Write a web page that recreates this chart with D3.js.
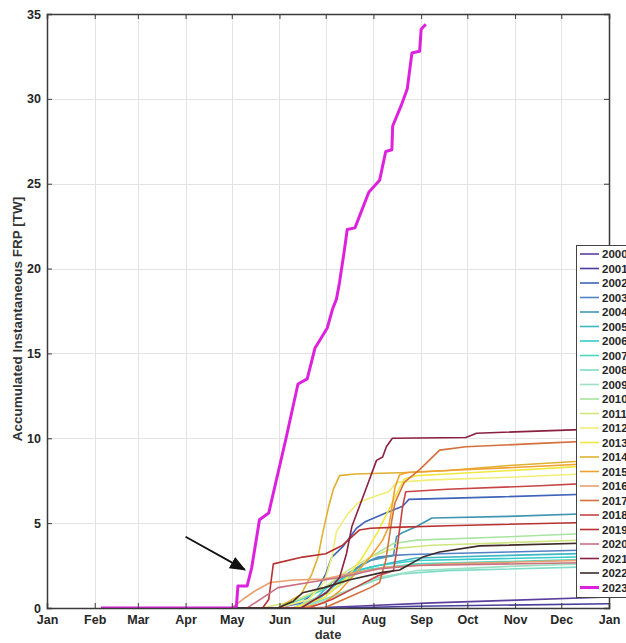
<!DOCTYPE html>
<html>
<head>
<meta charset="utf-8">
<script src="https://cdn.jsdelivr.net/npm/d3@7/dist/d3.min.js"></script>
<style>
  html, body { margin: 0; padding: 0; background: #fff; }
  svg { display: block; }
</style>
</head>
<body>
<svg id="chart" width="626" height="643"></svg>
<script>
// ---------- DATA (day of year, accumulated FRP in TW) ----------
const years = ["2000","2001","2002","2003","2004","2005","2006","2007","2008","2009","2010","2011",
               "2012","2013","2014","2015","2016","2017","2018","2019","2020","2021","2022","2023"];

const s2000 = [[55,0],[170,0],[200,0.1],[250,0.3],[300,0.45],[365,0.65]];
const s2001 = [[55,0],[190,0],[240,0.1],[365,0.25]];
const s2002 = [[55,0],[150,0],[165,0.3],[175,1.0],[181,2.0],[185,3.0],[192,3.6],[201,4.7],[207,5.1],[220,5.6],[231,6.0],[235,6.4],[294,6.55],[365,6.75]];
const s2003 = [[55,0],[160,0],[175,0.5],[185,1.2],[195,2.0],[205,2.6],[215,3.0],[225,3.1],[236,3.15],[300,3.3],[365,3.45]];
const s2004 = [[55,0],[160,0],[180,0.8],[195,2.0],[210,2.8],[225,3.1],[227,4.2],[230,4.4],[240,4.8],[250,5.3],[300,5.4],[365,5.6]];
const s2005 = [[55,0],[165,0],[175,0.6],[185,1.5],[195,2.0],[210,2.4],[225,2.7],[240,2.95],[300,3.1],[365,3.25]];
const s2006 = [[55,0],[170,0],[180,0.8],[190,1.6],[200,2.2],[215,2.5],[240,2.8],[365,3.05]];
const s2007 = [[55,0],[150,0],[165,0.5],[180,1.1],[195,1.8],[210,2.3],[240,2.6],[365,2.9]];
const s2008 = [[55,0],[160,0],[180,0.5],[200,1.2],[215,1.7],[230,2.0],[260,2.2],[365,2.45]];
const s2009 = [[55,0],[165,0],[185,0.6],[200,1.2],[215,1.8],[240,2.2],[300,2.45],[365,2.65]];
const s2010 = [[55,0],[160,0],[185,1.0],[200,2.0],[210,3.0],[225,3.8],[240,4.0],[300,4.2],[365,4.45]];
const s2011 = [[55,0],[140,0],[160,0.4],[180,1.2],[195,2.2],[210,3.0],[225,3.5],[250,3.7],[365,4.05]];
const s2012 = [[55,0],[150,0],[170,0.5],[180,1.5],[185,3.0],[188,4.5],[195,5.5],[202,6.2],[212,6.55],[222,6.85],[227,7.4],[250,7.55],[300,7.7],[365,7.97]];
const s2013 = [[55,0],[160,0],[180,0.6],[195,1.8],[205,3.0],[215,4.5],[222,5.8],[228,6.9],[232,7.6],[240,7.8],[260,7.9],[320,8.2],[365,8.45]];
const s2014 = [[55,0],[150,0],[165,0.8],[172,2.0],[176,3.0],[179,4.4],[183,6.0],[186,7.0],[190,7.8],[200,7.9],[240,8.0],[260,8.1],[300,8.4],[365,8.75]];
const s2015 = [[55,0],[165,0],[180,0.3],[190,1.0],[200,2.0],[210,3.0],[218,4.0],[222,4.8],[226,7.1],[229,7.85],[235,8.0],[260,8.1],[320,8.35],[365,8.56]];
const s2016 = [[55,0],[120,0],[127,0.5],[135,1.0],[145,1.5],[160,1.65],[180,1.7],[195,2.0],[220,2.4],[260,2.6],[365,2.85]];
const s2017 = [[55,0],[180,0],[190,0.4],[200,0.8],[210,1.2],[216,1.5],[220,2.8],[224,5.2],[226,6.2],[232,7.4],[242,8.15],[255,9.3],[272,9.5],[320,9.7],[365,9.88]];
const s2018 = [[55,0],[170,0],[185,0.5],[200,1.2],[215,1.9],[225,2.2],[227.5,3.6],[231,6.0],[233,6.85],[260,7.0],[320,7.2],[365,7.4]];
const s2019 = [[55,0],[140,0],[144,0.5],[147,2.6],[166,3.0],[181,3.2],[192,3.7],[203,4.6],[210,4.7],[225,4.75],[260,4.85],[365,5.07]];
const s2020 = [[55,0],[130,0],[140,0.6],[150,1.2],[170,1.5],[190,1.8],[215,2.3],[240,2.5],[365,2.7]];
const s2021 = [[55,0],[165,0],[172,0.4],[181.5,0.9],[190,1.8],[194.5,3.2],[198,4.8],[207.5,7.1],[214,8.7],[218,8.9],[220.4,9.5],[224.3,10.0],[272,10.05],[279,10.3],[365,10.57]];
const s2022 = [[55,0],[150,0],[160,0.4],[166,0.9],[180,1.2],[196,1.65],[218,2.1],[229,2.24],[244,3.0],[255,3.3],[281,3.66],[365,3.86]];
const s2023 = [[35,0],[121,0],[123,0.1],[124,1.3],[130,1.3],[133,2.4],[138,5.2],[144,5.6],[155,9.9],[163,13.2],[169,13.5],[174,15.3],[182,16.5],
               [185.4,17.6],[188,18.2],[190,19.2],[193,21.0],[195,22.3],[200,22.4],[209,24.5],[216,25.2],[220,26.9],[224,27.0],[224.5,28.4],
               [230,29.6],[234,30.6],[237,32.7],[242,32.8],[243,34.1],[246,34.4]];

const seriesValues = [s2000,s2001,s2002,s2003,s2004,s2005,s2006,s2007,s2008,s2009,s2010,s2011,
                      s2012,s2013,s2014,s2015,s2016,s2017,s2018,s2019,s2020,s2021,s2022,s2023];

const colors = ["#5c3f9e","#4a3f9c","#3f63b8","#5282c6","#3f96b0","#3fb8c4","#35cccc","#4fd6bc","#7fdcc8","#9ee0c4",
                "#a8e4a0","#cfe67e","#f0ee78","#f0e840","#e0b030","#f0a030","#e8a070","#d4703c","#c84444","#b83030",
                "#c87080","#8a2040","#3e2a28","#dd22dd"];

const yTicks = [0,5,10,15,20,25,30,35];
const monthLabels = ["Jan","Feb","Mar","Apr","May","Jun","Jul","Aug","Sep","Oct","Nov","Dec","Jan"];
const arrowPts = [[90,4.2],[128.4,2.26]]; // annotation arrow: tail -> head (day, TW)

// ---------- LAYOUT ----------
const svg = d3.select("#chart");
const L = 47, R = 609, T = 14, B = 608;
const t0 = Date.UTC(2001,0,1);
const toDate = d => new Date(t0 + d*864e5);

const x = d3.scaleUtc().domain([toDate(0), toDate(365)]).range([L, R]);
const y = d3.scaleLinear().domain([0,35]).range([B, T]);
const monthTicks = d3.utcMonth.range(toDate(0), toDate(366));

const font = "'Liberation Sans', Arial, Helvetica, sans-serif";

// grid
const grid = svg.append("g").attr("stroke","#e3e3e3").attr("stroke-width",1);
grid.selectAll("line.gx").data(monthTicks).join("line")
  .attr("x1", d=>Math.round(x(d))+0.5).attr("x2", d=>Math.round(x(d))+0.5)
  .attr("y1", T).attr("y2", B);
grid.selectAll("line.gy").data(yTicks).join("line")
  .attr("y1", d=>Math.round(y(d))+0.5).attr("y2", d=>Math.round(y(d))+0.5)
  .attr("x1", L).attr("x2", R);

// lines
const clip = svg.append("clipPath").attr("id","clip").append("rect")
  .attr("x",L).attr("y",T-6).attr("width",R-L).attr("height",B-T+6);
const line = d3.line().x(d=>x(toDate(d[0]))).y(d=>y(d[1]));
const lg = svg.append("g").attr("clip-path","url(#clip)");
seriesValues.forEach((s,i)=>{
  lg.append("path").attr("d", line(s)).attr("fill","none")
    .attr("stroke", colors[i]).attr("stroke-width", i===23 ? 3 : 1.6)
    .attr("stroke-linejoin","round");
});

// axes (MATLAB style box)
const axisColor = "#3a3a3a";
const xAxisB = d3.axisBottom(x).tickValues(monthTicks).tickSize(-5).tickFormat((d,i)=>monthLabels[i]).tickPadding(7);
const xAxisT = d3.axisTop(x).tickValues(monthTicks).tickSize(-5).tickFormat("");
const yAxisL = d3.axisLeft(y).tickValues(yTicks).tickSize(-5).tickPadding(6);
const yAxisR = d3.axisRight(y).tickValues(yTicks).tickSize(-5).tickFormat("");

function style(g){
  g.selectAll("path.domain").attr("stroke", axisColor).attr("stroke-width",1.5);
  g.selectAll(".tick line").attr("stroke", axisColor).attr("stroke-width",1);
  g.selectAll("text").attr("fill","#262626").attr("font-family",font).attr("font-size","12.5px").attr("font-weight","bold");
}
svg.append("g").attr("transform",`translate(0,${B})`).call(xAxisB).call(style);
svg.append("g").attr("transform",`translate(0,${T})`).call(xAxisT).call(style);
svg.append("g").attr("transform",`translate(${L},0)`).call(yAxisL).call(style);
svg.append("g").attr("transform",`translate(${R},0)`).call(yAxisR).call(style);

// axis labels
svg.append("text").attr("x", (L+R)/2 - 0).attr("y", 639).attr("text-anchor","middle")
  .attr("font-family",font).attr("font-size","13px").attr("font-weight","bold").attr("fill","#333").text("date");
svg.append("text").attr("transform",`translate(22,${319}) rotate(-90)`).attr("text-anchor","middle")
  .attr("font-family",font).attr("font-size","13.5px").attr("font-weight","bold").attr("fill","#333")
  .text("Accumulated Instantaneous FRP [TW]");

// arrow annotation
const defs = svg.append("defs");
defs.append("marker").attr("id","ah").attr("viewBox","0 0 10 10").attr("refX",9).attr("refY",5)
  .attr("markerWidth",9).attr("markerHeight",9).attr("orient","auto-start-reverse")
  .append("path").attr("d","M0,1 L10,5 L0,9 Z").attr("fill","#111");
svg.append("line")
  .attr("x1", x(toDate(arrowPts[0][0]))).attr("y1", y(arrowPts[0][1]))
  .attr("x2", x(toDate(arrowPts[1][0]))).attr("y2", y(arrowPts[1][1]))
  .attr("stroke","#111").attr("stroke-width",1.8).attr("marker-end","url(#ah)");

// legend
const legX = 576, legY = 245, rowH = 14.5;
const leg = svg.append("g");
leg.append("rect").attr("x", legX+0.5).attr("y", legY+0.5).attr("width", 80).attr("height", rowH*years.length + 4)
  .attr("fill","#fff").attr("stroke","#444").attr("stroke-width",1);
years.forEach((yr,i)=>{
  const cy = legY + 9 + i*rowH;
  leg.append("line").attr("x1", legX+4).attr("x2", legX+23).attr("y1", cy).attr("y2", cy)
    .attr("stroke", colors[i]).attr("stroke-width", i===23 ? 3 : 1.6);
  leg.append("text").attr("x", legX+26).attr("y", cy+4).attr("font-family",font).attr("font-size","11.5px")
    .attr("font-weight","bold").attr("fill","#262626").text(yr);
});
</script>
</body>
</html>
